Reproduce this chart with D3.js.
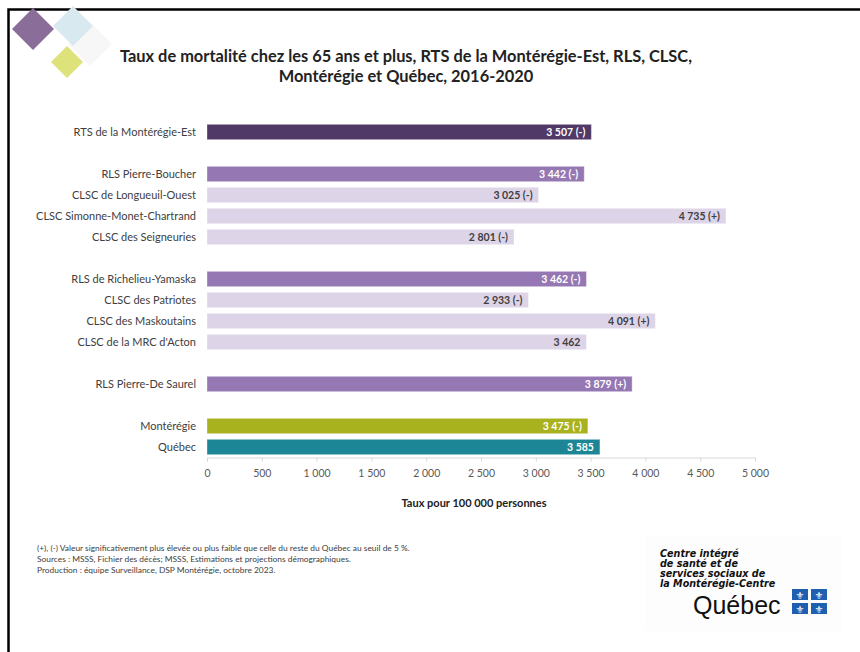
<!DOCTYPE html>
<html><head><meta charset="utf-8">
<script src="https://cdn.jsdelivr.net/npm/d3@7"></script>
<style>body{margin:0;background:#fff}svg{display:block}</style>
</head><body>
<script>
const categories = ["RTS de la Montérégie-Est","","RLS Pierre-Boucher","CLSC de Longueuil-Ouest","CLSC Simonne-Monet-Chartrand","CLSC des Seigneuries","","RLS de Richelieu-Yamaska","CLSC des Patriotes","CLSC des Maskoutains","CLSC de la MRC d'Acton","","RLS Pierre-De Saurel","","Montérégie","Québec"];
const values = [3507,null,3442,3025,4735,2801,null,3462,2933,4091,3462,null,3879,null,3475,3585];
const flags = ["(-)","","(-)","(-)","(+)","(-)","","(-)","(-)","(+)","","","(+)","","(-)",""];
const levels = ["RTS","","RLS","CLSC","CLSC","CLSC","","RLS","CLSC","CLSC","CLSC","","RLS","","MONT","QC"];
const tickValues = [0,500,1000,1500,2000,2500,3000,3500,4000,4500,5000];
const colors = {RTS:"#503867",RLS:"#9577b3",CLSC:"#ddd4e8",MONT:"#a8b11e",QC:"#1d8696"};
const labelColors = {RTS:"#fff",RLS:"#fff",CLSC:"#404040",MONT:"#fff",QC:"#fff"};
const fmt = v => d3.format(",")(v).replace(/,/g," ");

const W=860,H=652;
const svg=d3.select("body").append("svg").attr("width",W).attr("height",H);
const F="Lato, 'Open Sans', sans-serif";

// border
svg.append("path").attr("d","M8.5,652 V9.5 H860").attr("fill","none").attr("stroke","#000").attr("stroke-width",2.5);

// top-left logo diamonds
const dia=(cx,cy,r,fill,op)=>svg.append("path").attr("d",`M${cx},${cy-r}L${cx+r},${cy}L${cx},${cy+r}L${cx-r},${cy}Z`).attr("fill",fill).attr("opacity",op);
dia(90,44,22,"#f7f7f8",1);
dia(73,26,20,"#d9e9f0",1);
dia(33,29,21,"#8a6d98",1);
dia(67,62,16,"#dde27a",1);

// title
const title=svg.append("text").attr("x",406).attr("text-anchor","middle").attr("font-family",F).attr("font-weight","bold").attr("font-size",16.4).attr("fill","#222");
title.append("tspan").attr("x",406).attr("y",62).text("Taux de mortalité chez les 65 ans et plus, RTS de la Montérégie-Est, RLS, CLSC,");
title.append("tspan").attr("x",406).attr("y",82).text("Montérégie et Québec, 2016-2020");

const x=d3.scaleLinear().domain([0,5000]).range([207,755]);
const y=d3.scaleBand().domain(d3.range(categories.length)).range([121.5,457.5]).paddingInner(0.27).paddingOuter(0.135);

// axis
const ax=svg.append("g").attr("transform","translate(0,457.5)")
  .call(d3.axisBottom(x).tickValues(tickValues).tickFormat(fmt).tickSize(4).tickPadding(8));
ax.select(".domain").attr("stroke","#d9d9d9");
ax.selectAll(".tick line").attr("stroke","#d9d9d9");
ax.selectAll(".tick text").attr("font-family",F).attr("font-size",10.5).attr("fill","#595959");

const idx=d3.range(categories.length).filter(i=>values[i]!=null);
svg.append("g").selectAll("rect").data(idx).join("rect")
  .attr("x",x(0)).attr("y",i=>y(i)).attr("width",i=>x(values[i])-x(0)).attr("height",y.bandwidth())
  .attr("fill",i=>colors[levels[i]]).attr("stroke","#ffffff").attr("stroke-opacity",0.35).attr("stroke-width",1);

svg.append("g").selectAll("text").data(idx).join("text")
  .attr("x",i=>x(values[i])-6).attr("y",i=>y(i)+y.bandwidth()/2).attr("dy","0.35em")
  .attr("text-anchor","end").attr("font-family",F).attr("font-weight","bold").attr("font-size",10.5)
  .attr("fill",i=>labelColors[levels[i]])
  .text(i=>fmt(values[i])+(flags[i]?" "+flags[i]:""));

svg.append("g").selectAll("text").data(idx).join("text")
  .attr("x",196).attr("y",i=>y(i)+y.bandwidth()/2).attr("dy","0.35em")
  .attr("text-anchor","end").attr("font-family",F).attr("font-size",11).attr("fill","#404040")
  .text(i=>categories[i]);

svg.append("text").attr("x",474).attr("y",507).attr("text-anchor","middle").attr("font-family",F)
  .attr("font-weight","bold").attr("font-size",11).attr("fill","#222").text("Taux pour 100 000 personnes");

const notes=["(+), (-) Valeur significativement plus élevée ou plus faible que celle du reste du Québec au seuil de 5 %.",
"Sources : MSSS, Fichier des décès; MSSS, Estimations et projections démographiques.",
"Production : équipe Surveillance, DSP Montérégie, octobre 2023."];
svg.append("g").selectAll("text").data(notes).join("text")
  .attr("x",37).attr("y",(d,i)=>551+i*11).attr("font-family",F).attr("font-size",8.4).attr("fill","#404040").text(d=>d);

// bottom-right logo
svg.append("rect").attr("x",645).attr("y",535).attr("width",197).attr("height",96).attr("fill","#fdfdfd");
const lg=["Centre intégré","de santé et de","services sociaux de","la Montérégie-Centre"];
svg.append("g").selectAll("text").data(lg).join("text")
  .attr("x",660).attr("y",(d,i)=>557+i*10).attr("font-family","'DejaVu Sans', sans-serif").attr("font-style","italic")
  .attr("font-weight","bold").attr("font-size",9.6).attr("fill","#111").text(d=>d);
svg.append("text").attr("x",693).attr("y",614).attr("font-family","'Liberation Sans', Arial, sans-serif")
  .attr("font-size",25).attr("fill","#111").text("Québec");
const fl=[[792,589],[811,589],[792,603],[811,603]];
fl.forEach(([fx,fy])=>{
  svg.append("rect").attr("x",fx).attr("y",fy).attr("width",16).attr("height",11).attr("fill","#1f5fb0");
  svg.append("text").attr("x",fx+8).attr("y",fy+9.5).attr("text-anchor","middle").attr("font-family","'DejaVu Sans'").attr("font-size",10).attr("fill","#fff").text("⚜");
});
</script>
</body></html>
